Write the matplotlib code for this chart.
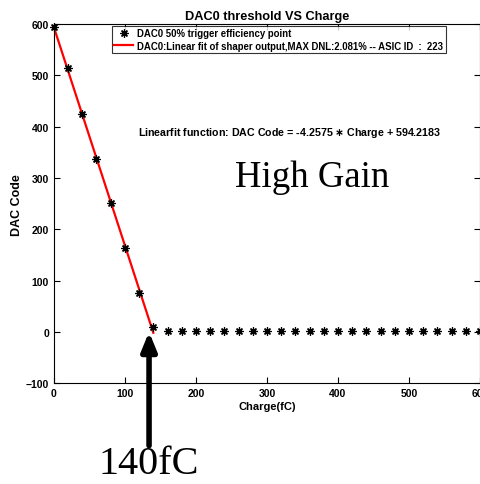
import matplotlib
matplotlib.use("Agg")
import matplotlib.pyplot as plt
import numpy as np

plt.rcParams["font.family"] = ["Liberation Sans", "DejaVu Sans"]
plt.rcParams["font.weight"] = "bold"

# 50% trigger efficiency points (DAC code vs injected charge)
charge_fc = [0, 20, 40, 60, 80, 100, 120, 140, 160, 180, 200, 220, 240, 260,
             280, 300, 320, 340, 360, 380, 400, 420, 440, 460, 480, 500, 520,
             540, 560, 580, 600]
dac_code = [594, 515, 425, 337, 251, 164, 75, 10, 2, 2, 1, 2, 2, 2,
            1, 2, 2, 2, 2, 2, 1, 2, 1, 1, 2, 2, 2, 2, 2, 2, 2]

fit_slope = -4.2575
fit_offset = 594.2183
fit_range = [0, 140]
max_dnl = 2.081
asic_id = 223
arrow_charge = 134

fig = plt.figure(figsize=(4.81, 4.85), dpi=100)
ax = fig.add_axes([0.112, 0.208, 0.886, 0.740])

fit_x = np.array(fit_range)
fit_y = fit_slope * fit_x + fit_offset

ax.plot(charge_fc, dac_code, linestyle="none", marker=(8, 2, 0),
        markersize=5.8, markeredgewidth=0.9, color="black",
        label="DAC0 50% trigger efficiency point", zorder=3, clip_on=False)
ax.plot(fit_x, fit_y, color="red", linewidth=1.6,
        label=f"DAC0:Linear fit of shaper output,MAX DNL:{max_dnl}% -- ASIC ID  :  {asic_id}",
        zorder=2)

ax.set_xlim(0, 600)
ax.set_ylim(-100, 600)
ax.set_xticks(range(0, 601, 100))
ax.set_yticks(range(-100, 601, 100))
ax.tick_params(direction="in", top=True, right=True, labelsize=7.5, length=4)
for lbl in ax.get_xticklabels() + ax.get_yticklabels():
    lbl.set_fontweight("bold")

ax.set_title("DAC0 threshold VS Charge", fontsize=9.2, fontweight="bold", pad=4)
ax.set_xlabel("Charge(fC)", fontsize=8, fontweight="bold", labelpad=2)
ax.set_ylabel("DAC Code", fontsize=9, fontweight="bold", labelpad=2)

leg = ax.legend(loc="upper left", bbox_to_anchor=(0.136, 0.995), fontsize=6.9,
                numpoints=1, frameon=True, fancybox=False, edgecolor="black",
                borderpad=0.25, handlelength=2.0, labelspacing=0.25,
                handletextpad=0.4, borderaxespad=0.0)
leg.get_frame().set_linewidth(0.8)

ax.text(332, 390, f"Linearfit function: DAC Code = {fit_slope} $\\ast$ Charge + {fit_offset}",
        fontsize=7.7, fontweight="bold", ha="center", va="center")
ax.text(363, 285, "High Gain", fontsize=26.5, family="Liberation Serif",
        fontweight="normal", ha="center", va="baseline")

ax.annotate("", xy=(arrow_charge, 0), xytext=(arrow_charge, -222),
            xycoords="data", textcoords="data", annotation_clip=False,
            arrowprops=dict(arrowstyle="-|>,head_width=0.45,head_length=1.1",
                            color="black", linewidth=4, shrinkA=0, shrinkB=0))
ax.text(arrow_charge, -257, "140fC", fontsize=29, family="Liberation Serif",
        fontweight="normal", ha="center", va="center", clip_on=False)

fig.savefig("out.png", dpi=100)
